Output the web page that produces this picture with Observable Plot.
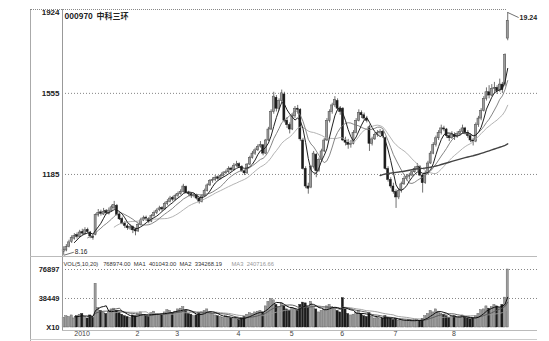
<!DOCTYPE html>
<html><head><meta charset="utf-8">
<script src="https://cdn.jsdelivr.net/npm/d3@7"></script>
<script src="https://cdn.jsdelivr.net/npm/@observablehq/plot@0.6"></script>
<style>
body{margin:0;background:#fff;}
#c{position:relative;width:549px;height:341px;overflow:hidden;background:#fff;}
#c svg{position:absolute;left:0;}
.ln{position:absolute;}
</style></head><body><div id="c"></div>
<script>
const opens=[8.30,8.38,8.55,8.78,8.92,9.08,9.00,9.22,9.12,9.32,
9.20,9.00,9.10,9.98,10.12,10.02,10.18,10.05,10.18,10.30,
10.42,10.02,9.82,9.62,9.48,9.38,9.45,9.32,9.25,9.55,
9.75,9.88,9.82,9.70,9.95,10.10,10.22,10.32,10.25,10.50,
10.60,10.78,10.70,10.88,10.95,11.05,11.28,11.00,10.95,10.85,
10.90,10.75,10.60,10.85,11.10,11.35,11.55,11.60,11.72,11.65,
11.78,11.90,11.95,12.12,12.05,12.25,12.32,12.20,12.00,11.90,
12.30,12.60,12.80,12.95,13.12,13.18,12.80,13.40,13.90,14.70,
15.35,14.85,15.20,15.50,14.30,14.10,13.90,14.50,14.85,14.80,
13.40,12.10,11.30,11.25,12.20,12.75,12.00,12.50,12.90,13.40,
14.30,14.70,15.00,15.20,14.85,14.85,13.40,13.30,13.20,13.25,
13.75,14.30,14.65,14.55,14.40,14.00,13.25,13.45,13.65,13.75,
13.80,13.50,12.10,11.60,11.30,11.05,10.80,11.10,11.40,11.65,
11.75,11.80,11.95,12.10,12.20,11.80,11.45,11.90,12.35,12.80,
13.20,13.50,13.75,13.95,13.90,13.60,13.50,13.65,13.55,13.70,
13.80,13.95,13.75,13.60,13.40,13.35,14.10,14.40,14.75,15.30,
15.60,15.45,15.75,15.80,15.65,15.95,15.95,18.05];
const highs=[8.55,8.65,8.85,9.05,9.15,9.18,9.30,9.35,9.42,9.40,
9.25,9.10,10.05,10.25,10.22,10.30,10.25,10.32,10.45,10.62,
10.48,10.10,9.90,9.70,9.58,9.55,9.50,9.40,9.62,9.85,
9.95,9.95,9.88,10.02,10.18,10.28,10.40,10.38,10.58,10.70,
10.85,10.85,10.95,11.05,11.15,11.40,11.32,11.08,11.00,10.98,
10.95,10.80,10.92,11.18,11.42,11.62,11.70,11.80,11.78,11.85,
11.98,12.05,12.20,12.18,12.35,12.45,12.38,12.25,12.05,12.35,
12.68,12.90,13.05,13.20,13.35,13.22,13.45,14.00,14.80,15.60,
15.45,15.30,15.70,15.60,14.45,14.20,14.60,14.95,15.00,14.85,
13.50,12.20,11.45,12.25,12.90,12.80,12.60,13.00,13.50,14.40,
14.80,15.10,15.40,15.30,14.95,14.90,13.55,13.45,13.40,13.85,
14.40,14.80,14.75,14.65,14.50,14.10,13.55,13.75,13.85,13.90,
13.85,13.55,12.20,11.70,11.45,11.15,11.20,11.50,11.75,11.85,
11.90,12.05,12.20,12.35,12.25,11.85,12.00,12.45,12.90,13.30,
13.60,13.85,14.10,14.05,13.95,13.70,13.80,13.75,13.80,13.90,
14.10,14.00,13.85,13.70,13.50,14.20,14.50,14.85,15.40,15.80,
15.90,15.95,16.05,15.90,16.20,16.05,17.35,19.24];
const lows=[8.16,8.32,8.50,8.70,8.85,8.90,8.95,9.05,9.08,9.15,
8.92,8.85,9.05,9.90,9.95,9.98,10.00,10.00,10.12,10.25,
9.95,9.75,9.55,9.38,9.30,9.30,9.15,9.05,9.20,9.50,
9.70,9.70,9.60,9.65,9.90,10.02,10.15,10.15,10.20,10.42,
10.55,10.60,10.65,10.80,10.90,11.00,10.95,10.85,10.75,10.78,
10.68,10.50,10.55,10.82,11.05,11.30,11.45,11.52,11.55,11.60,
11.72,11.85,11.90,11.95,12.00,12.18,12.12,11.95,11.80,11.85,
12.25,12.55,12.72,12.90,13.05,12.70,12.75,13.35,13.85,14.60,
14.70,14.75,15.10,14.20,13.95,13.70,13.85,14.40,14.60,13.35,
12.05,11.20,10.95,11.20,12.10,11.70,11.95,12.40,12.85,13.35,
14.20,14.60,14.90,14.75,14.55,13.35,13.15,13.00,13.05,13.20,
13.70,14.25,14.40,14.30,14.20,12.90,13.15,13.40,13.55,13.65,
13.50,12.05,11.50,11.20,10.95,10.30,10.70,11.00,11.35,11.55,
11.60,11.75,11.90,12.00,11.75,11.00,11.40,11.85,12.30,12.75,
13.10,13.40,13.65,13.80,13.50,13.35,13.45,13.40,13.50,13.60,
13.70,13.65,13.50,13.30,13.15,13.30,14.00,14.30,14.70,15.20,
15.30,15.40,15.55,15.50,15.60,15.55,15.85,17.95];
const closes=[8.40,8.55,8.75,8.95,9.05,9.00,9.20,9.15,9.30,9.22,
9.02,8.95,10.00,10.10,10.05,10.15,10.08,10.20,10.35,10.45,
10.00,9.80,9.60,9.50,9.40,9.45,9.30,9.25,9.55,9.75,
9.85,9.80,9.70,9.95,10.10,10.20,10.30,10.25,10.50,10.60,
10.75,10.70,10.88,10.95,11.05,11.30,11.00,10.95,10.85,10.90,
10.75,10.60,10.85,11.10,11.35,11.55,11.60,11.70,11.65,11.78,
11.90,11.95,12.10,12.05,12.25,12.30,12.20,12.00,11.90,12.30,
12.60,12.80,12.95,13.10,13.20,12.80,13.40,13.90,14.70,15.40,
14.85,15.20,15.55,14.30,14.10,13.90,14.50,14.85,14.80,13.45,
12.10,11.30,11.20,12.20,12.80,12.00,12.50,12.90,13.40,14.30,
14.70,15.00,15.25,14.85,14.70,13.40,13.30,13.20,13.25,13.75,
14.30,14.65,14.55,14.40,14.30,13.25,13.45,13.65,13.75,13.80,
13.60,12.10,11.60,11.30,11.05,10.80,11.10,11.40,11.65,11.75,
11.80,11.95,12.10,12.20,11.80,11.45,11.90,12.35,12.80,13.20,
13.50,13.75,13.95,13.90,13.60,13.50,13.65,13.55,13.70,13.80,
13.95,13.75,13.60,13.40,13.35,14.10,14.40,14.75,15.30,15.60,
15.45,15.75,15.80,15.65,15.95,15.70,17.30,18.85];
const volumes=[13000,15000,14000,16000,12000,15000,17000,18000,14000,12000,16000,13000,
58000,
26000,22000,20000,18000,21000,24000,25000,
22000,20000,17000,15000,14000,13000,16000,15000,
18000,20000,17000,15000,14000,19000,21000,18000,17000,16000,20000,
23000,22000,19000,21000,24000,25000,27000,
22000,18000,17000,15000,16000,19000,20000,22000,24000,
20000,18000,16000,15000,14000,13000,15000,14000,12000,11000,13000,10000,12000,14000,
17000,19000,18000,20000,21000,22000,20000,
28000,34000,38000,36000,30000,27000,32000,
28000,24000,22000,26000,25000,22000,30000,33000,32000,26000,34000,28000,24000,
20000,22000,24000,28000,30000,27000,25000,22000,20000,39000,
24000,18000,16000,17000,20000,22000,18000,15000,14000,19000,14000,12000,13000,11000,12000,15000,13000,12000,10000,
11000,9000,10000,8500,9000,10000,8000,9500,10000,9000,11000,
15000,18000,22000,20000,24000,21000,18000,17000,15000,13000,14000,15000,
13000,14000,16000,13000,12000,11000,12000,15000,18000,23000,
24000,28000,25000,27000,29750,
28000,26000,30000,39623,
76897];
const stockTitle="000970  中科三环";
const priceTicks=[19.24,15.55,11.85];
const priceTickLabels=["1924","1555","1185"];
const volTicks=[0,38449,76897];
const volTickLabels=["X10","38449","76897"];
const monthTicks=[4,27,42,65,85,104,124,146];
const monthLabels=["2010","2","3","4","5","6","7","8"];
const volHeader="VOL(5,10,20)   768974.00  MA1  401043.00  MA2  334268.19";
const volHeader2="MA3  240716.66";
const priceMAk=[5,10,20,120];
const volMAk=[5,10,20];

const rows=closes.map((c,i)=>({i,o:opens[i],h:highs[i],l:lows[i],c,v:volumes[i],up:c>=opens[i]}));
function ma(arr,k){return arr.map((_,i)=>i<k-1?null:d3.mean(arr.slice(i-k+1,i+1)));}
const pMA=priceMAk.map(k=>ma(closes,k));
const vMA=volMAk.map(k=>ma(volumes,k));
const xDom=[-0.45,178.2];
const font="'Liberation Sans', Arial, sans-serif";
const grid={stroke:"#666",strokeDasharray:"1,2",strokeWidth:0.8};
const upFill="#9c9c9c", dnFill="#1c1c1c";
const loRow=rows[d3.minIndex(lows)], hiRow=rows[d3.maxIndex(highs)];

const main=Plot.plot({
  width:549,height:257,marginLeft:62,marginRight:12,marginTop:12,marginBottom:0,
  x:{domain:xDom,axis:null},
  y:{domain:[8.06,19.24],axis:null},
  style:{background:"transparent",fontFamily:font,overflow:"visible"},
  marks:[
    Plot.ruleY(priceTicks.slice(1),grid),
    Plot.axisY({ticks:priceTicks,tickFormat:d=>priceTickLabels[priceTicks.indexOf(d)],tickSize:0,tickPadding:3,label:null,fontSize:8,fontWeight:"bold",fill:"#222"}),
    Plot.ruleX(rows,{x:"i",y1:"l",y2:"h",stroke:"#333",strokeWidth:0.7}),
    Plot.rect(rows,{x1:d=>d.i-0.38,x2:d=>d.i+0.38,y1:"o",y2:"c",fill:d=>d.up?upFill:dnFill,stroke:d=>d.up?"#444":dnFill,strokeWidth:0.5}),
    Plot.lineY(pMA[2],{x:(d,i)=>i,stroke:"#aaa",strokeWidth:0.9}),
    Plot.lineY(pMA[1],{x:(d,i)=>i,stroke:"#777",strokeWidth:0.9}),
    Plot.lineY(pMA[0],{x:(d,i)=>i,stroke:"#222",strokeWidth:1}),
    Plot.lineY(pMA[3],{x:(d,i)=>i,stroke:"#444",strokeWidth:1.4}),
    Plot.text([stockTitle],{frameAnchor:"top-left",dx:2,dy:1,textAnchor:"start",fontSize:8,fontWeight:"bold",fill:"#222",fontFamily:"'Noto Sans CJK SC', sans-serif"}),
    Plot.link([loRow],{x1:"i",y1:"l",x2:d=>d.i+3.8,y2:d=>d.l+0.14,stroke:"#333",strokeWidth:0.7}),
    Plot.text([loRow],{x:d=>d.i+3.8,y:d=>d.l+0.14,text:d=>d.l.toFixed(2),textAnchor:"start",dx:1,fontSize:6.5,fill:"#222"}),
    Plot.link([hiRow],{x1:"i",y1:"h",x2:d=>d.i+4.1,y2:d=>d.h-0.23,stroke:"#333",strokeWidth:0.7}),
    Plot.text([hiRow],{x:d=>d.i+4.1,y:d=>d.h-0.23,text:d=>d.h.toFixed(2),textAnchor:"start",dx:1,fontSize:7,fontWeight:"bold",fill:"#222"})
  ]
});
main.style.top="0px";

const vol=Plot.plot({
  width:549,height:84,marginLeft:62,marginRight:12,marginTop:12,marginBottom:14,
  x:{domain:xDom,axis:null},
  y:{domain:[0,76897],axis:null},
  style:{background:"transparent",fontFamily:font,overflow:"visible"},
  marks:[
    Plot.ruleY(volTicks.slice(1),grid),
    Plot.axisY({ticks:volTicks,tickFormat:d=>volTickLabels[volTicks.indexOf(d)],tickSize:0,tickPadding:3,label:null,fontSize:7.5,fontWeight:"bold",fill:"#222"}),
    Plot.axisX({ticks:monthTicks,tickFormat:d=>monthLabels[monthTicks.indexOf(d)],tickSize:0,tickPadding:4,textAnchor:"start",label:null,fontSize:7,fill:"#444"}),
    Plot.rect(rows,{x1:d=>d.i-0.4,x2:d=>d.i+0.4,y1:0,y2:"v",fill:d=>d.up?upFill:dnFill,stroke:d=>d.up?"#555":dnFill,strokeWidth:0.4}),
    Plot.lineY(vMA[2],{x:(d,i)=>i,stroke:"#999",strokeWidth:0.9}),
    Plot.lineY(vMA[1],{x:(d,i)=>i,stroke:"#555",strokeWidth:0.9}),
    Plot.lineY(vMA[0],{x:(d,i)=>i,stroke:"#111",strokeWidth:1}),
    Plot.text([volHeader],{frameAnchor:"top-left",dx:1,dy:-8,textAnchor:"start",fontSize:5.8,fill:"#333"}),
    Plot.text([volHeader2],{frameAnchor:"top-left",dx:169,dy:-8,textAnchor:"start",fontSize:5.8,fill:"#999"})
  ]
});
vol.style.top="257px";

const c=document.getElementById("c");
c.appendChild(main); c.appendChild(vol);
function line(l,t,w,h,css){const d=document.createElement("div");d.className="ln";Object.assign(d.style,{left:l+"px",top:t+"px",width:w+"px",height:h+"px"},css);c.appendChild(d);}
line(30,9,0,332,{borderLeft:"1px solid #aaa"});
line(62,9,0,322,{borderLeft:"1px solid #999"});
line(30,9,476,0,{borderTop:"1px dotted #888"});
line(30,256,507,0,{borderTop:"1px solid #bbb"});
line(62,330,475,0,{borderTop:"1px solid #bbb"});
line(30,339,507,0,{borderTop:"1px solid #ccc"});
</script></body></html>
